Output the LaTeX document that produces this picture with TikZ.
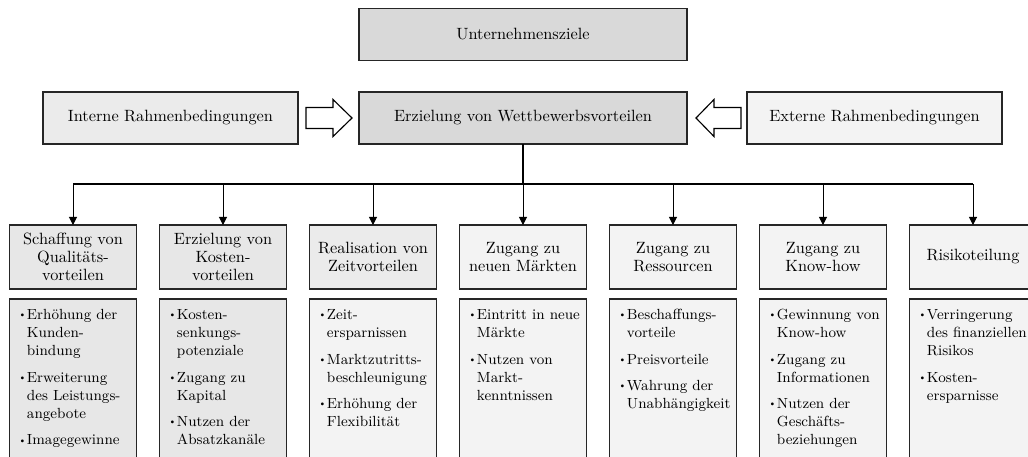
\documentclass[tikz,border=0pt]{standalone}
\usetikzlibrary{arrows.meta}
\definecolor{gDark}{HTML}{D9D9D9}
\definecolor{gMid}{HTML}{E7E7E7}
\definecolor{gLight}{HTML}{EBEBEB}
\definecolor{gPale}{HTML}{F3F3F3}
\def\un{0.613pt}
% one bullet point with a hanging indent; \\ breaks lines inside the item
\newcommand\bitem[1]{\par\noindent\hangindent=5.6pt\hangafter=1%
  \makebox[5.6pt][l]{\raisebox{0.3ex}{\fontsize{6}{7}\selectfont\textbullet}}#1\par}
\newcommand\blist[1]{\begin{minipage}[t]{75pt}%
  \rightskip=0pt plus 1fil\relax
  \fontsize{9}{11.15}\selectfont\setlength\parskip{5pt}#1\end{minipage}}
\begin{document}
\begin{tikzpicture}[x=0.613pt,y=-0.613pt,
  box/.style={draw=black!85, line width=0.8pt, rectangle, inner sep=0pt,
    outer sep=0pt, align=center, font=\fontsize{10}{11.2}\selectfont},
  wide/.style={box, minimum width=328*\un, minimum height=52*\un},
  side/.style={box, minimum width=255*\un, minimum height=52*\un},
  head/.style={box, minimum width=127*\un, minimum height=64*\un},
  listbox/.style={box, anchor=north, minimum width=127*\un, minimum height=180*\un},
  listtext/.style={anchor=base west, inner sep=0pt, xshift=8*\un, yshift=-20.5*\un},
  trunk/.style={line width=0.9pt, black},
  stem/.style={line width=0.6pt, black, -{Triangle[width=5pt,length=5pt]}},
  blockarrow/.style={draw=black, line width=0.7pt, fill=white, line join=miter}]
\useasboundingbox (0,0) rectangle (1028,456);
\clip (0,0) rectangle (1028,456);

% upper part
\node[wide, fill=gDark] (uz) at (523,34.5) {Unternehmensziele};
\node[wide, fill=gDark] (wv) at (523,118) {Erzielung von Wettbewerbsvorteilen};
\node[side, fill=gLight] (ir) at (170.5,118) {Interne Rahmenbedingungen};
\node[side, fill=gPale] (er) at (874.5,118) {Externe Rahmenbedingungen};

% open block arrows towards the central box
\draw[blockarrow] (306,107.5) -- (333,107.5) -- (333,99.5) -- (352,118)
  -- (333,136.5) -- (333,128.5) -- (306,128.5) -- cycle;
\draw[blockarrow] (741,107.5) -- (714,107.5) -- (714,99.5) -- (696,118)
  -- (714,136.5) -- (714,128.5) -- (741,128.5) -- cycle;

% column headings
\node[head, fill=gMid]  (h1) at (73,257)  {Schaffung von\\Qualitäts-\\vorteilen};
\node[head, fill=gMid]  (h2) at (223,257) {Erzielung von\\Kosten-\\vorteilen};
\node[head, fill=gLight] (h3) at (373,257) {Realisation von\\Zeitvorteilen};
\node[head, fill=gPale] (h4) at (523,257) {Zugang zu\\neuen Märkten};
\node[head, fill=gPale] (h5) at (673,257) {Zugang zu\\Ressourcen};
\node[head, fill=gPale] (h6) at (823,257) {Zugang zu\\Know-how};
\node[head, fill=gPale] (h7) at (973,257) {Risikoteilung};

% connectors
\coordinate (bus) at (523,184);
\draw[trunk] (wv.south) -- (bus);
\draw[trunk] (h1.north |- bus) -- (h7.north |- bus);
\foreach \h in {h1,h2,h3,h4,h5,h6,h7}
  \draw[stem] (\h.north |- bus) -- (\h.north);

% bullet boxes
\node[listbox, fill=gMid]  (b1) at (73,299)  {};
\node[listbox, fill=gMid]  (b2) at (223,299) {};
\node[listbox, fill=gPale] (b3) at (373,299) {};
\node[listbox, fill=gPale] (b4) at (523,299) {};
\node[listbox, fill=gPale] (b5) at (673,299) {};
\node[listbox, fill=gPale] (b6) at (823,299) {};
\node[listbox, fill=gPale] (b7) at (973,299) {};

\node[listtext] (t1) at (b1.north west) {\blist{%
  \bitem{Erhöhung der\\Kunden-\\bindung}
  \bitem{Erweiterung\\des Leistungs-\\angebote}
  \bitem{Imagegewinne}}};
\node[listtext] (t2) at (b2.north west) {\blist{%
  \bitem{Kosten-\\senkungs-\\potenziale}
  \bitem{Zugang zu\\Kapital}
  \bitem{Nutzen der\\Absatzkanäle}}};
\node[listtext] (t3) at (b3.north west) {\blist{%
  \bitem{Zeit-\\ersparnissen}
  \bitem{Marktzutritts-\\beschleunigung}
  \bitem{Erhöhung der\\Flexibilität}}};
\node[listtext] (t4) at (b4.north west) {\blist{%
  \bitem{Eintritt in neue\\Märkte}
  \bitem{Nutzen von\\Markt-\\kenntnissen}}};
\node[listtext] (t5) at (b5.north west) {\blist{%
  \bitem{Beschaffungs-\\vorteile}
  \bitem{Preisvorteile}
  \bitem{Wahrung der\\Unabhängigkeit}}};
\node[listtext] (t6) at (b6.north west) {\blist{%
  \bitem{Gewinnung von\\Know-how}
  \bitem{Zugang zu\\Informationen}
  \bitem{Nutzen der\\Geschäfts-\\beziehungen}}};
\node[listtext] (t7) at (b7.north west) {\blist{%
  \bitem{Verringerung\\des finanziellen\\Risikos}
  \bitem{Kosten-\\ersparnisse}}};
\end{tikzpicture}
\end{document}
